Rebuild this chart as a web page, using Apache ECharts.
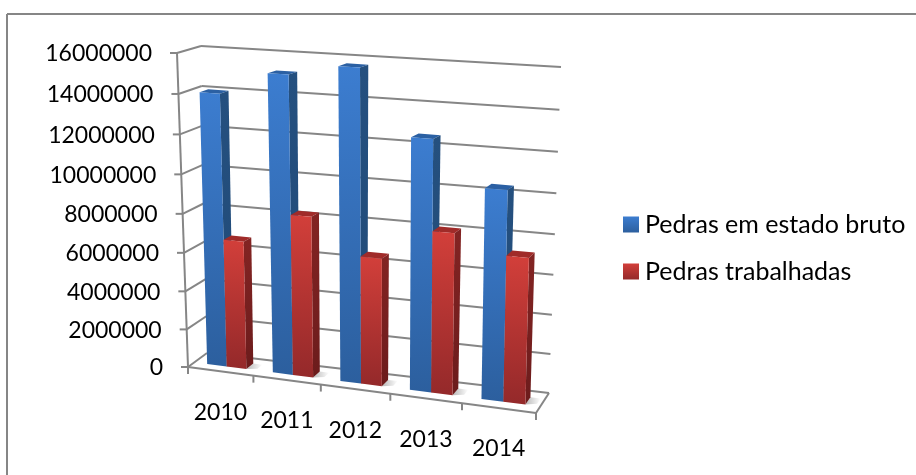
<!DOCTYPE html>
<html>
<head>
<meta charset="utf-8">
<script src="https://cdn.jsdelivr.net/npm/echarts@6/dist/echarts.min.js"></script>
<style>
  html, body { margin: 0; padding: 0; background: #fff; }
  #chart { width: 916px; height: 475px; }
</style>
</head>
<body>
<div id="chart"></div>
<script>
const categories = ['2010', '2011', '2012', '2013', '2014'];
const seriesBruto = [14000000, 15150000, 15700000, 12550000, 10400000];
const seriesTrabalhadas = [6650000, 8250000, 6500000, 8100000, 7250000];
const yTicks = [0, 2000000, 4000000, 6000000, 8000000, 10000000, 12000000, 14000000, 16000000];

const FONT = 'Lato, Carlito, sans-serif';
const GRID = { left: 188, top: 53, width: 348, height: 314 };
const LINE = '#868686';

// cantos do plano frontal e do fundo (o falso 3D do grafico)
const frontPlane = quad([188, 367], [536, 413], [543, 75], [177, 53]);
const backPlane = quad([207, 353], [549, 393], [561, 67], [201, 46]);

function quad(p0, p1, p2, p3) {
  const dx1 = p1[0] - p2[0], dx2 = p3[0] - p2[0], sx = p0[0] - p1[0] + p2[0] - p3[0];
  const dy1 = p1[1] - p2[1], dy2 = p3[1] - p2[1], sy = p0[1] - p1[1] + p2[1] - p3[1];
  const det = dx1 * dy2 - dx2 * dy1;
  const g = (sx * dy2 - dx2 * sy) / det;
  const h = (dx1 * sy - sx * dy1) / det;
  const a = p1[0] - p0[0] + g * p1[0], b = p3[0] - p0[0] + h * p3[0];
  const d = p1[1] - p0[1] + g * p1[1], e = p3[1] - p0[1] + h * p3[1];
  return (u, v) => {
    const w = g * u + h * v + 1;
    return [(a * u + b * v + p0[0]) / w, (d * u + e * v + p0[1]) / w];
  };
}

// u, v vem das escalas do grid; depth 0 = frente, 1 = fundo
function project(u, v, depth) {
  const f = frontPlane(u, v);
  const b = backPlane(u, v);
  return [f[0] + (b[0] - f[0]) * depth, f[1] + (b[1] - f[1]) * depth];
}

const toU = (px) => (px - GRID.left) / GRID.width;
const toV = (py) => (GRID.top + GRID.height - py) / GRID.height;

const vGrad = (top, bottom) => new echarts.graphic.LinearGradient(0, 0, 0, 1, [
  { offset: 0, color: top },
  { offset: 1, color: bottom }
]);

const poly = (points, fill) => ({ type: 'polygon', shape: { points }, style: { fill } });
const seg = (a, b) => ({
  type: 'line',
  shape: { x1: a[0], y1: a[1], x2: b[0], y2: b[1] },
  style: { stroke: LINE, lineWidth: 2 }
});

function barRenderer(from, to, colors) {
  const D0 = 0.33, D1 = 0.7;
  return (params, api) => {
    const c = api.coord([api.value(0), 0]);
    const band = api.size([1, 0])[0];
    const vTop = toV(api.coord([api.value(0), api.value(1)])[1]);
    const left = toU(c[0] - band / 2) + (band / GRID.width) * from;
    const right = toU(c[0] - band / 2) + (band / GRID.width) * to;
    const shadowEnd = right + (band / GRID.width) * 0.14;
    const shadow = new echarts.graphic.LinearGradient(0, 0, 1, 0, [
      { offset: 0, color: 'rgba(0,0,0,0.28)' },
      { offset: 1, color: 'rgba(0,0,0,0)' }
    ]);
    return {
      type: 'group',
      children: [
        poly([project(right, 0, D0), project(shadowEnd, 0, D0 + 0.1), project(shadowEnd, 0, D1), project(right, 0, D1)], shadow),
        poly([project(left, vTop, D0), project(right, vTop, D0), project(right, vTop, D1), project(left, vTop, D1)], colors.top),
        poly([project(right, 0, D0), project(right, vTop, D0), project(right, vTop, D1), project(right, 0, D1)], vGrad(colors.side[0], colors.side[1])),
        poly([project(left, 0, D0), project(right, 0, D0), project(right, vTop, D0), project(left, vTop, D0)], vGrad(colors.front[0], colors.front[1]))
      ]
    };
  };
}

const brutoColors = { front: ['#3c7dd0', '#2c5f9e'], side: ['#25507f', '#204a78'], top: '#2b60a3' };
const trabColors = { front: ['#d23f3a', '#94292a'], side: ['#832423', '#6c1c1c'], top: '#a02b29' };

function renderWall(params, api) {
  const tick = api.value(0);
  const v = toV(api.coord([0, tick])[1]);
  const back = [project(0, v, 1), project(1, v, 1)];
  const axisPt = project(0, v, 0);
  const children = [
    seg(back[0], back[1]),
    seg(axisPt, back[0]),
    seg(axisPt, [axisPt[0] - 7, axisPt[1]]),
    {
      type: 'text',
      style: {
        x: axisPt[0] - 25, y: axisPt[1] + 1,
        text: String(tick), fill: '#000',
        fontFamily: FONT, fontSize: 23,
        align: 'right', verticalAlign: 'middle'
      }
    }
  ];
  if (tick === 0) {
    children.push(seg(project(1, 0, 0), project(1, 0, 1)));
    children.push(seg(project(0, 1, 0), project(0, 0, 0)));
    children.push(seg(project(0, 0, 0), project(1, 0, 0)));
  }
  return { type: 'group', children };
}

function renderCategory(params, api) {
  const idx = api.value(0);
  const c = api.coord([idx, 0]);
  const band = api.size([1, 0])[0];
  const tickPt = project(toU(c[0] - band / 2), 0, 0);
  const mid = project(toU(c[0]), 0, 0);
  const children = [
    seg(tickPt, [tickPt[0], tickPt[1] + 7]),
    {
      type: 'text',
      style: {
        x: mid[0], y: mid[1] + 41,
        text: categories[idx], fill: '#000',
        fontFamily: FONT, fontSize: 23,
        align: 'center', verticalAlign: 'middle'
      }
    }
  ];
  if (idx === categories.length - 1) {
    const end = project(1, 0, 0);
    children.push(seg(end, [end[0], end[1] + 7]));
  }
  return { type: 'group', children };
}

const chart = echarts.init(document.getElementById('chart'), null, { renderer: 'canvas' });

chart.setOption({
  animation: false,
  backgroundColor: '#fff',
  graphic: [
    { type: 'line', shape: { x1: 7, y1: 14, x2: 916, y2: 14 }, style: { stroke: LINE, lineWidth: 2 } },
    { type: 'line', shape: { x1: 7, y1: 14, x2: 7, y2: 475 }, style: { stroke: LINE, lineWidth: 2 } }
  ],
  legend: {
    orient: 'vertical',
    left: 618,
    top: 207,
    itemWidth: 16,
    itemHeight: 16,
    itemGap: 22,
    icon: 'rect',
    data: ['Pedras em estado bruto', 'Pedras trabalhadas'],
    textStyle: { color: '#000', fontFamily: FONT, fontSize: 25, padding: [0, 0, 0, 1] }
  },
  grid: { left: GRID.left, top: GRID.top, width: GRID.width, height: GRID.height },
  xAxis: { type: 'category', data: categories, show: false },
  yAxis: { type: 'value', min: 0, max: 16000000, interval: 2000000, show: false },
  series: [
    {
      type: 'custom',
      silent: true,
      clip: false,
      z: 1,
      renderItem: renderWall,
      data: yTicks.map((t) => [t]),
      encode: { y: 0 }
    },
    {
      type: 'custom',
      silent: true,
      clip: false,
      z: 1,
      renderItem: renderCategory,
      data: categories.map((c, i) => [i]),
      encode: { x: 0 }
    },
    {
      name: 'Pedras em estado bruto',
      type: 'custom',
      clip: false,
      z: 2,
      itemStyle: { color: vGrad(brutoColors.front[0], brutoColors.front[1]) },
      renderItem: barRenderer(0.2, 0.5, brutoColors),
      data: seriesBruto.map((v, i) => [i, v]),
      encode: { x: 0, y: 1 }
    },
    {
      name: 'Pedras trabalhadas',
      type: 'custom',
      clip: false,
      z: 3,
      itemStyle: { color: vGrad(trabColors.front[0], trabColors.front[1]) },
      renderItem: barRenderer(0.5, 0.8, trabColors),
      data: seriesTrabalhadas.map((v, i) => [i, v]),
      encode: { x: 0, y: 1 }
    }
  ]
});
</script>
</body>
</html>
